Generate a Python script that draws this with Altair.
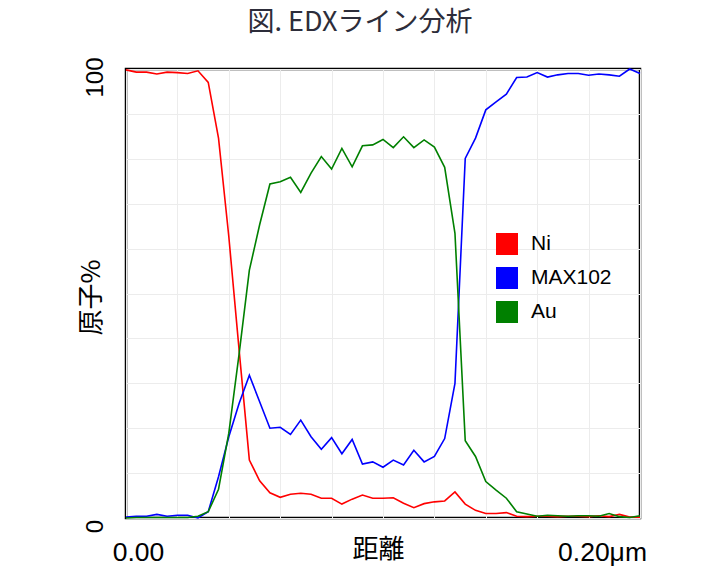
import altair as alt
import pandas as pd

# Sampling positions along the scan line (µm)
distance = [0.000, 0.004, 0.008, 0.012, 0.016, 0.020, 0.024, 0.028, 0.032, 0.036,
            0.040, 0.044, 0.048, 0.052, 0.056, 0.060, 0.064, 0.068, 0.072, 0.076,
            0.080, 0.084, 0.088, 0.092, 0.096, 0.100, 0.104, 0.108, 0.112, 0.116,
            0.120, 0.124, 0.128, 0.132, 0.136, 0.140, 0.144, 0.148, 0.152, 0.156,
            0.160, 0.164, 0.168, 0.172, 0.176, 0.180, 0.184, 0.188, 0.192, 0.196,
            0.200]

ni = [99.8, 99.3, 99.3, 98.9, 99.3, 99.2, 99.0, 99.6, 97.0, 84.6,
      62.7, 37.5, 12.9, 8.3, 5.6, 4.6, 5.3, 5.5, 5.3, 4.4,
      4.4, 3.1, 4.2, 5.1, 4.4, 4.4, 4.5, 3.3, 2.3, 3.2,
      3.6, 3.8, 5.8, 3.1, 1.7, 1.0, 1.0, 1.2, 0.4, 0.3,
      0.4, 0.4, 0.3, 0.4, 0.4, 0.3, 0.5, 0.3, 0.8, 0.2,
      0.2]

max102 = [0.2, 0.4, 0.4, 0.8, 0.4, 0.6, 0.6, 0.0, 1.4, 9.2,
          18.1, 25.5, 31.8, 25.9, 20.0, 20.2, 18.6, 21.8, 18.1, 15.3,
          17.9, 14.3, 17.5, 12.0, 12.5, 11.3, 12.9, 11.8, 15.1, 12.5,
          13.7, 17.7, 30.0, 80.1, 84.6, 90.9, 92.7, 94.4, 98.1, 98.2,
          99.2, 98.2, 98.7, 99.0, 99.0, 98.6, 98.9, 98.7, 98.4, 100.0,
          99.0]

au = [0.0, 0.1, 0.1, 0.1, 0.1, 0.1, 0.1, 0.4, 1.4, 6.4,
      18.9, 36.5, 55.2, 65.3, 74.4, 74.9, 75.9, 72.5, 76.8, 80.5,
      77.7, 82.3, 78.2, 82.9, 83.1, 84.3, 82.5, 84.9, 82.5, 84.2,
      82.6, 78.1, 63.4, 17.2, 13.7, 8.1, 6.2, 4.4, 1.4, 0.9,
      0.4, 0.6, 0.5, 0.4, 0.5, 0.5, 0.4, 1.0, 0.3, 0.1,
      0.5]

series_names = ["Ni", "MAX102", "Au"]
series_colors = ["#ff0000", "#0000ff", "#008000"]

x_ticks = [0.0, 0.02, 0.04, 0.06, 0.08, 0.10, 0.12, 0.14, 0.16, 0.18, 0.20]
y_ticks = [0, 10, 20, 30, 40, 50, 60, 70, 80, 90, 100]

rows = []
for name, vals in zip(series_names, [ni, max102, au]):
    for d, v in zip(distance, vals):
        rows.append({"distance": d, "value": v, "element": name})
df = pd.DataFrame(rows)

x_axis = alt.Axis(
    values=x_ticks,
    title="距離",
    grid=True,
    ticks=False,
    tickSize=0,
    domain=False,
    labelExpr="datum.value < 0.001 ? '0.00' : (datum.value > 0.199 ? '0.20μm' : '')",
    labelFlush=False,
    labelOverlap=False,
    labelFont="Liberation Sans",
    labelFontSize=26.5,
    labelColor="#000000",
    labelAlign="center",
    labelBaseline="alphabetic",
    labelPadding=42,
    labelOffset={"condition": {"test": "datum.value < 0.001", "value": 12}, "value": -38},
    titleFont="Noto Sans CJK JP",
    titleFontSize=26,
    titleFontWeight="normal",
    titleColor="#000000",
    titleX=252,
    titleY=39,
    titleAlign="center",
    titleBaseline="alphabetic",
)

y_axis = alt.Axis(
    values=y_ticks,
    title="原子%",
    grid=True,
    ticks=False,
    tickSize=0,
    domain=False,
    labelExpr="datum.value == 0 ? '0' : (datum.value == 100 ? '100' : '')",
    labelFlush=False,
    labelOverlap=False,
    labelFont="Liberation Sans",
    labelFontSize=24,
    labelColor="#000000",
    labelAngle=270,
    labelAlign="center",
    labelBaseline="alphabetic",
    labelPadding=24,
    labelOffset=8,
    titleFont="Noto Sans CJK JP",
    titleFontSize=26,
    titleFontWeight="normal",
    titleColor="#000000",
    titleAngle=270,
    titleX=-27,
    titleY=228,
    titleAlign="center",
    titleBaseline="alphabetic",
)

legend = alt.Legend(
    title=None,
    orient="none",
    legendX=370,
    legendY=164,
    padding=0,
    symbolType="square",
    symbolSize=484,
    symbolStrokeWidth=0,
    symbolOpacity=1,
    labelFont="Liberation Sans",
    labelFontSize=21,
    labelColor="#000000",
    labelOffset=13,
    rowPadding=12,
)

color_scale = alt.Scale(domain=series_names, range=series_colors)
x_enc = alt.X("distance:Q", scale=alt.Scale(domain=[0, 0.2], nice=False, zero=False), axis=x_axis)
y_enc = alt.Y("value:Q", scale=alt.Scale(domain=[0, 100], nice=False), axis=y_axis)

base = alt.Chart(df)

lines = base.mark_line(strokeWidth=1.6).encode(
    x=x_enc,
    y=y_enc,
    color=alt.Color("element:N", sort=series_names, scale=color_scale, legend=None),
)

# Layer that carries only the legend (filled square swatches); it draws no marks.
legend_layer = base.transform_filter("datum.value > 1000").mark_square(filled=True).encode(
    x=x_enc,
    y=y_enc,
    color=alt.Color("element:N", sort=series_names, scale=color_scale, legend=legend),
)

chart = alt.layer(lines, legend_layer).resolve_legend(color="independent").properties(
    width=514,
    height=449,
    title=alt.Title("図. EDXライン分析", font="Noto Sans CJK JP", fontSize=27,
                    fontWeight="normal", color="#2d2d3a", anchor="middle", dx=-23, offset=20),
    autosize=alt.AutoSizeParams(type="none"),
    padding={"left": 126, "top": 69, "right": 80, "bottom": 52},
    background="white",
).configure_view(
    stroke="#000000",
    strokeWidth=2.5,
).configure_axis(
    gridColor="#ececec",
    gridWidth=1,
)

chart.save("out.html", embed_options={"renderer": "svg", "actions": False})
